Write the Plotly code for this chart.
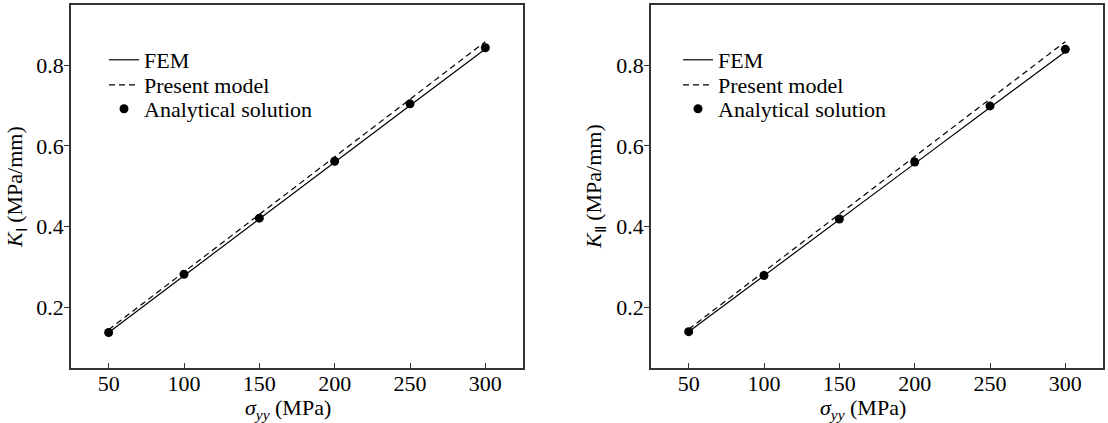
import plotly.graph_objects as go

# Data
stress = [50, 100, 150, 200, 250, 300]
k1_fem = [0.138, 0.279, 0.419, 0.560, 0.700, 0.840]
k1_present = [0.145, 0.288, 0.430, 0.573, 0.716, 0.858]
k1_analytic = [0.138, 0.282, 0.421, 0.562, 0.704, 0.843]

k2_fem = [0.140, 0.278, 0.417, 0.556, 0.695, 0.833]
k2_present = [0.146, 0.289, 0.431, 0.574, 0.716, 0.858]
k2_analytic = [0.140, 0.279, 0.419, 0.560, 0.699, 0.839]

x_ticks = [50, 100, 150, 200, 250, 300]
y_ticks = [0.2, 0.4, 0.6, 0.8]

W, H = 1108, 423
FONT = "Liberation Serif, Times New Roman, serif"
FS = 22


def px_x(p):
    return p / W


def px_y(p):
    return 1 - p / H


fig = go.Figure()


def add_panel(fem, present, analytic, xa, ya, legs):
    fig.add_trace(go.Scatter(x=stress, y=fem, mode="lines", name="FEM",
                             line=dict(color="black", width=1.2),
                             xaxis=xa, yaxis=ya, legend=legs[0], showlegend=True))
    fig.add_trace(go.Scatter(x=stress, y=present, mode="lines", name="Present model",
                             line=dict(color="black", width=1.2, dash="6px,4px"),
                             xaxis=xa, yaxis=ya, legend=legs[1], showlegend=True))
    fig.add_trace(go.Scatter(x=stress, y=analytic, mode="markers", name="Analytical solution",
                             marker=dict(color="black", size=9, symbol="circle"),
                             xaxis=xa, yaxis=ya, legend=legs[2], showlegend=True))


add_panel(k1_fem, k1_present, k1_analytic, "x", "y", ["legend2", "legend3", "legend4"])
add_panel(k2_fem, k2_present, k2_analytic, "x2", "y2", ["legend5", "legend6", "legend7"])

xaxis_common = dict(range=[25, 325], tickvals=x_ticks, ticks="inside", ticklen=5,
                    tickwidth=1, tickcolor="#333", showline=True, linecolor="#333",
                    linewidth=1.5, mirror=True, showgrid=False, zeroline=False,
                    ticklabelstandoff=-5,
                    tickfont=dict(family=FONT, size=FS, color="black"), automargin=False)
yaxis_common = dict(range=[0.05, 0.95], tickvals=y_ticks, tickformat=".1f", ticks="outside",
                    ticklen=5, tickwidth=1, tickcolor="#333", showline=True, linecolor="#333",
                    linewidth=1.5, mirror=True, showgrid=False, zeroline=False,
                    ticklabelstandoff=-4,
                    tickfont=dict(family=FONT, size=FS, color="black"), automargin=False)

ydom = [px_y(368), px_y(4.5)]

legend_common = dict(font=dict(family=FONT, size=FS, color="black"), bgcolor="rgba(0,0,0,0)",
                     borderwidth=0, tracegroupgap=0, itemwidth=30,
                     xanchor="left", yanchor="middle")

rows = [60, 85, 109]
leg_layout = {}
names = ["legend2", "legend3", "legend4", "legend5", "legend6", "legend7"]
for i, nm in enumerate(names):
    lx = 104 if i < 3 else 678
    leg_layout[nm] = dict(x=px_x(lx), y=px_y(rows[i % 3]), **legend_common)

title_font = dict(family=FONT, size=FS, color="black")

fig.update_layout(
    width=W, height=H,
    margin=dict(l=0, r=0, t=0, b=0),
    paper_bgcolor="white", plot_bgcolor="white",
    showlegend=True,
    xaxis=dict(domain=[px_x(71), px_x(523)], anchor="y", **xaxis_common),
    yaxis=dict(domain=ydom, anchor="x", **yaxis_common),
    xaxis2=dict(domain=[px_x(651), px_x(1103)], anchor="y2", **xaxis_common),
    yaxis2=dict(domain=ydom, anchor="x2", **yaxis_common),
    annotations=[
        dict(text="<i>σ<sub>yy</sub></i> (MPa)", x=px_x(288), y=px_y(409), xref="paper", yref="paper",
             showarrow=False, font=title_font, xanchor="center", yanchor="middle"),
        dict(text="<i>σ<sub>yy</sub></i> (MPa)", x=px_x(863), y=px_y(409), xref="paper", yref="paper",
             showarrow=False, font=title_font, xanchor="center", yanchor="middle"),
        dict(text="<i>K</i><sub>Ⅰ</sub> (MPa/mm)", x=px_x(16), y=px_y(187), xref="paper", yref="paper",
             showarrow=False, textangle=-90, font=title_font, xanchor="center", yanchor="middle"),
        dict(text="<i>K</i><sub>Ⅱ</sub> (MPa/mm)", x=px_x(595), y=px_y(187), xref="paper", yref="paper",
             showarrow=False, textangle=-90, font=title_font, xanchor="center", yanchor="middle"),
    ],
    **leg_layout,
)

fig.write_html("out.html", config={"displayModeBar": False},
               post_script="document.body.style.margin='0px';")
